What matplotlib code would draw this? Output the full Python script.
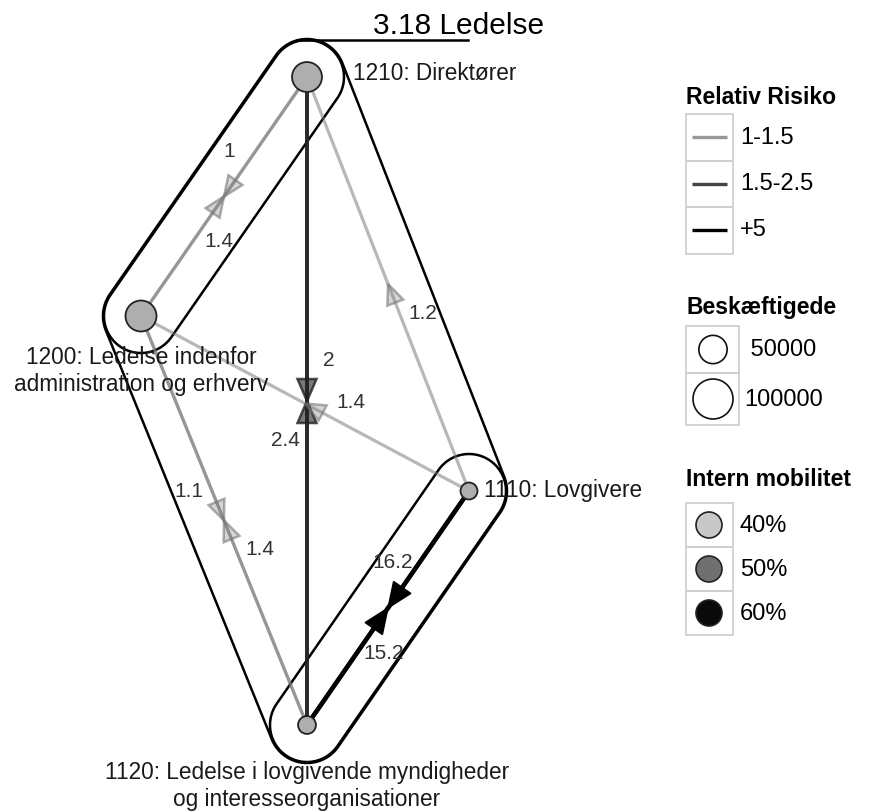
import numpy as np
import matplotlib
matplotlib.use("Agg")
import matplotlib.pyplot as plt
from matplotlib.patches import Polygon, Circle, Rectangle

plt.rcParams['font.family'] = ['Liberation Sans', 'DejaVu Sans']

# Data
nodes = ["1210", "1200", "1110", "1120"]
node_names = ["1210: Direktører",
              "1200: Ledelse indenfor\nadministration og erhverv",
              "1110: Lovgivere",
              "1120: Ledelse i lovgivende myndigheder\nog interesseorganisationer"]
employed = [56000, 60000, 18000, 20000]
mobility = [43, 43, 43, 43]

edge_from = ["1210", "1200", "1210", "1120", "1110", "1110", "1200", "1120", "1110", "1120"]
edge_to   = ["1200", "1210", "1120", "1210", "1200", "1210", "1120", "1200", "1120", "1110"]
edge_rr   = [1.0, 1.4, 2.0, 2.4, 1.4, 1.2, 1.1, 1.4, 16.2, 15.2]

hulls = [["1210", "1200"], ["1110", "1120"], ["1210", "1200", "1110", "1120"]]
title = "3.18 Ledelse"

rr_labels = ["1-1.5", "1.5-2.5", "+5"]
size_breaks = [50000, 100000]
mob_breaks = [40, 50, 60]

# Layout (pixel coordinates, y down)
pos = {"1210": (307, 77), "1200": (141, 316), "1110": (469, 491), "1120": (307, 725)}
name_pos = {"1210": (353, 74, "left"), "1200": (141, 371, "center"),
            "1110": (484, 490, "left"), "1120": (307, 786, "center")}

# styles per risk bin
bin_color = ["#777777", "#222222", "#000000"]
bin_alpha = [0.52, 0.8, 0.9]
bin_lw = [2.3, 2.8, 3.2]
bin_arrow = [(20, 8.5), (22, 9.5), (25, 10.5)]
legend_line = ["#999999", "#444444", "#000000"]
mob_colors = ["#c8c8c8", "#707070", "#0a0a0a"]


def rr_bin(v):
    if v < 1.5:
        return 0
    if v < 2.5:
        return 1
    return 2


def radius(n):
    return 20 * np.sqrt(n / 100000)


def mob_color(m):
    g = np.interp(m, mob_breaks, [200, 112, 10]) / 255
    return (g, g, g)


def hull_outline(pts, r, n=120):
    ang = np.linspace(0, 2 * np.pi, n, endpoint=False)
    circ = np.c_[np.cos(ang), np.sin(ang)] * r
    cloud = np.vstack([np.array(p) + circ for p in pts])
    cloud = cloud[np.lexsort((cloud[:, 1], cloud[:, 0]))]

    def cross(o, a, b):
        return (a[0] - o[0]) * (b[1] - o[1]) - (a[1] - o[1]) * (b[0] - o[0])

    lower, upper = [], []
    for p in cloud:
        while len(lower) >= 2 and cross(lower[-2], lower[-1], p) <= 0:
            lower.pop()
        lower.append(p)
    for p in cloud[::-1]:
        while len(upper) >= 2 and cross(upper[-2], upper[-1], p) <= 0:
            upper.pop()
        upper.append(p)
    return np.array(lower[:-1] + upper[:-1])


W, H = 875, 811
fig = plt.figure(figsize=(W / 100, H / 100), dpi=100)
ax = fig.add_axes([0, 0, 1, 1])
ax.set_xlim(0, W)
ax.set_ylim(H, 0)
ax.axis("off")

# hulls
hull_r = [37, 37, 38]
for g, r in zip(hulls, hull_r):
    h = hull_outline([pos[k] for k in g], r)
    ax.add_patch(Polygon(h, closed=True, fill=False, ec="black", lw=1.8, zorder=1))

# title with connector from the top of the big hull
top = min(pos.values(), key=lambda p: p[1])
ax.plot([top[0] - 10, 468], [top[1] - 37, top[1] - 37], color="black", lw=1.8, zorder=1)
ax.text(373, 34, title, fontsize=21.5, ha="left", va="baseline")

# edges
for a, b, v in zip(edge_from, edge_to, edge_rr):
    k = rr_bin(v)
    p0, p1 = np.array(pos[a], float), np.array(pos[b], float)
    ax.plot([p0[0], p1[0]], [p0[1], p1[1]], color=bin_color[k], alpha=bin_alpha[k],
            lw=bin_lw[k], solid_capstyle="butt", zorder=2)

for a, b, v in zip(edge_from, edge_to, edge_rr):
    k = rr_bin(v)
    p0, p1 = np.array(pos[a], float), np.array(pos[b], float)
    d = (p1 - p0) / np.linalg.norm(p1 - p0)
    rhs = np.array([-d[1], d[0]])
    mid = (p0 + p1) / 2
    L, hw = bin_arrow[k]
    tri = [mid, mid - L * d + hw * rhs, mid - L * d - hw * rhs]
    if k == 2:
        ax.add_patch(Polygon(tri, closed=True, fc="black", ec="black", lw=1, zorder=3))
    else:
        ax.add_patch(Polygon(tri, closed=True, fc=bin_color[k], alpha=0.3 if k == 0 else 0.6,
                             ec="none", zorder=3))
        ax.add_patch(Polygon(tri, closed=True, fill=False, ec=bin_color[k],
                             alpha=0.6 if k == 0 else 0.8, lw=1.8, zorder=3))
    # vertical edges get their label on the other side, as in the original
    side = -1 if abs(d[0]) < 1e-9 else 1
    lp = mid - 40 * d + side * 22 * rhs
    ax.text(lp[0], lp[1], f"{v:g}", fontsize=15, color="#333333",
            ha="center", va="center", zorder=5)

# nodes
for k, n, m in zip(nodes, employed, mobility):
    ax.add_patch(Circle(pos[k], radius(n), fc=mob_color(m), ec="#222222", lw=1.3, zorder=4))

for k, name in zip(nodes, node_names):
    x, y, ha = name_pos[k]
    ax.text(x, y, name, fontsize=16.3, ha=ha, va="center", linespacing=1.2,
            color="#1a1a1a", zorder=5)

# legends
box_c = "#d0d0d0"
lx = 686

ax.text(lx, 104, "Relativ Risiko", fontsize=16.5, fontweight="bold", va="baseline")
y0 = 114
for lab, c in zip(rr_labels, legend_line):
    ax.add_patch(Rectangle((lx, y0), 47, 46.5, fill=False, ec=box_c, lw=1.3))
    ax.plot([lx + 6, lx + 41], [y0 + 23, y0 + 23], color=c, lw=2.4, solid_capstyle="butt")
    ax.text(lx + 54, y0 + 23.5, lab, fontsize=17, va="center")
    y0 += 46.5

ax.text(lx, 314, "Beskæftigede", fontsize=16.5, fontweight="bold", va="baseline")
y0 = 326
for n, hgt in zip(size_breaks, [47, 52]):
    ax.add_patch(Rectangle((lx, y0), 53, hgt, fill=False, ec=box_c, lw=1.3))
    ax.add_patch(Circle((lx + 27, y0 + hgt / 2), radius(n), fc="white", ec="#111111", lw=1.2))
    ax.text(lx + 58, y0 + hgt / 2 + 1, f"{n:>6}", fontsize=17, va="center")
    y0 += hgt

ax.text(lx, 486, "Intern mobilitet", fontsize=16.5, fontweight="bold", va="baseline")
y0 = 503
for m, c in zip(mob_breaks, mob_colors):
    ax.add_patch(Rectangle((lx, y0), 47, 44, fill=False, ec=box_c, lw=1.3))
    ax.add_patch(Circle((lx + 23, y0 + 22), 13, fc=c, ec="#222222", lw=1.2))
    ax.text(lx + 54, y0 + 22.5, f"{m}%", fontsize=17, va="center")
    y0 += 44

fig.savefig("out.png", dpi=100)
